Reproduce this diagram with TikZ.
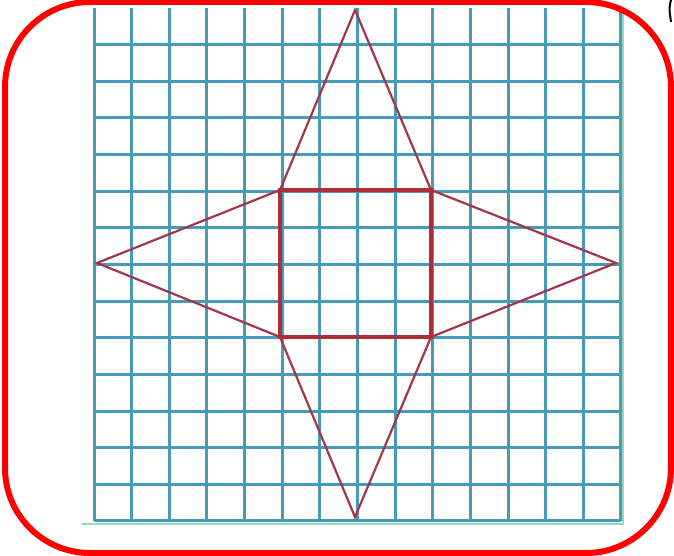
\documentclass[tikz,border=0pt]{standalone}
\begin{document}
\begin{tikzpicture}[x=1pt,y=-1pt,
  gridline/.style={draw={rgb,255:red,70;green,155;blue,185}, line width=3pt},
  edgeline/.style={draw={rgb,255:red,150;green,215;blue,190}, line width=2pt},
  starline/.style={draw={rgb,255:red,160;green,55;blue,75}, line width=2.2pt, line join=miter},
  squareline/.style={draw={rgb,255:red,175;green,45;blue,55}, line width=3.2pt},
  frame/.style={draw={rgb,255:red,255;green,0;blue,0}, line width=6pt, rounded corners=85pt}]
\useasboundingbox (0,0) rectangle (674,556);
% grid
\foreach \i in {0,...,14} {
  \pgfmathsetmacro{\xx}{94+\i*37.64}
  \draw[gridline] (\xx,8) -- (\xx,521);
}
\foreach \j in {1,...,14} {
  \pgfmathsetmacro{\yy}{8+\j*36.64}
  \draw[gridline] (94,\yy) -- (621,\yy);
}
\draw[edgeline] (82,524) -- (623,524) -- (623,8);
% vertices
\coordinate (T) at (355,10);
\coordinate (B) at (355,517);
\coordinate (L) at (97,263);
\coordinate (R) at (616,263);
\coordinate (s1) at (280,190);
\coordinate (s2) at (431,190);
\coordinate (s3) at (431,337);
\coordinate (s4) at (280,337);
\draw[starline] (T) -- (s2) -- (R) -- (s3) -- (B) -- (s4) -- (L) -- (s1) -- cycle;
\draw[squareline] (s1) -- (s2) -- (s3) -- (s4) -- cycle;
% frame
\draw[frame] (5,2) rectangle (671,553);
\draw[black, line width=2pt] (671,0) .. controls (669,8) .. (671,22);
\end{tikzpicture}
\end{document}
